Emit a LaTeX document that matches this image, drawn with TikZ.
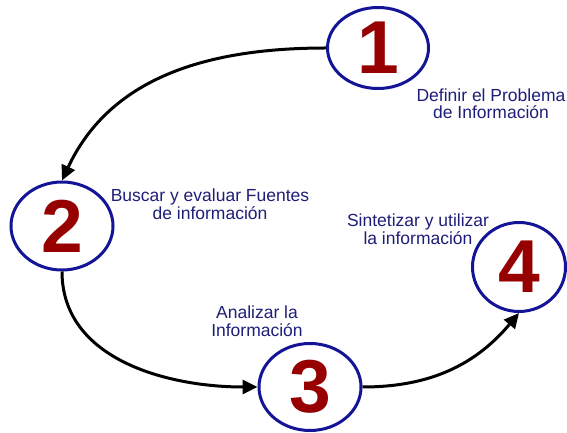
\documentclass[tikz,border=0pt]{standalone}
\usepackage{fontspec}
\setmainfont{Liberation Sans}
\usetikzlibrary{shapes.geometric,arrows.meta}
\definecolor{ringblue}{RGB}{20,20,150}
\definecolor{numred}{RGB}{150,0,0}
\definecolor{txtblue}{RGB}{30,30,120}
\tikzset{
 stepring/.style={ellipse,draw=ringblue,line width=3pt,inner sep=0pt,text=numred,font=\fontsize{75}{75}\selectfont\bfseries},
 steptext/.style={align=center,text=txtblue,font=\fontsize{17.5}{17.5}\selectfont,inner sep=0pt},
 flow/.style={line width=3pt,-{Triangle[length=15pt,width=14pt]}}
}
\begin{document}
\begin{tikzpicture}[x=1pt,y=1pt]
\useasboundingbox (0,0) rectangle (567,433);
\node[stepring,minimum width=101pt,minimum height=81pt] (uno) at (378,385) {1};
\node[stepring,minimum width=102pt,minimum height=88pt] (dos) at (62,207) {2};
\node[stepring,minimum width=102pt,minimum height=87pt] (tres) at (310,46) {3};
\node[stepring,minimum width=93pt,minimum height=89pt] (cuatro) at (519,166) {4};

\node[steptext] (t1) at (491,329) {Definir el Problema\\de Información};
\node[steptext] (t2) at (210,229) {Buscar y evaluar Fuentes\\de información};
\node[steptext] (t3) at (257,112) {Analizar la\\Información};
\node[steptext] (t4) at (418,204) {Sintetizar y utilizar\\la información};

\draw[flow] (uno.west) to[out=180,in=65] (dos.north);
\draw[flow] (dos.south) to[out=-90,in=180] (tres.west);
\draw[flow] (tres.east) to[out=0,in=-130] (cuatro.south);
\end{tikzpicture}
\end{document}
